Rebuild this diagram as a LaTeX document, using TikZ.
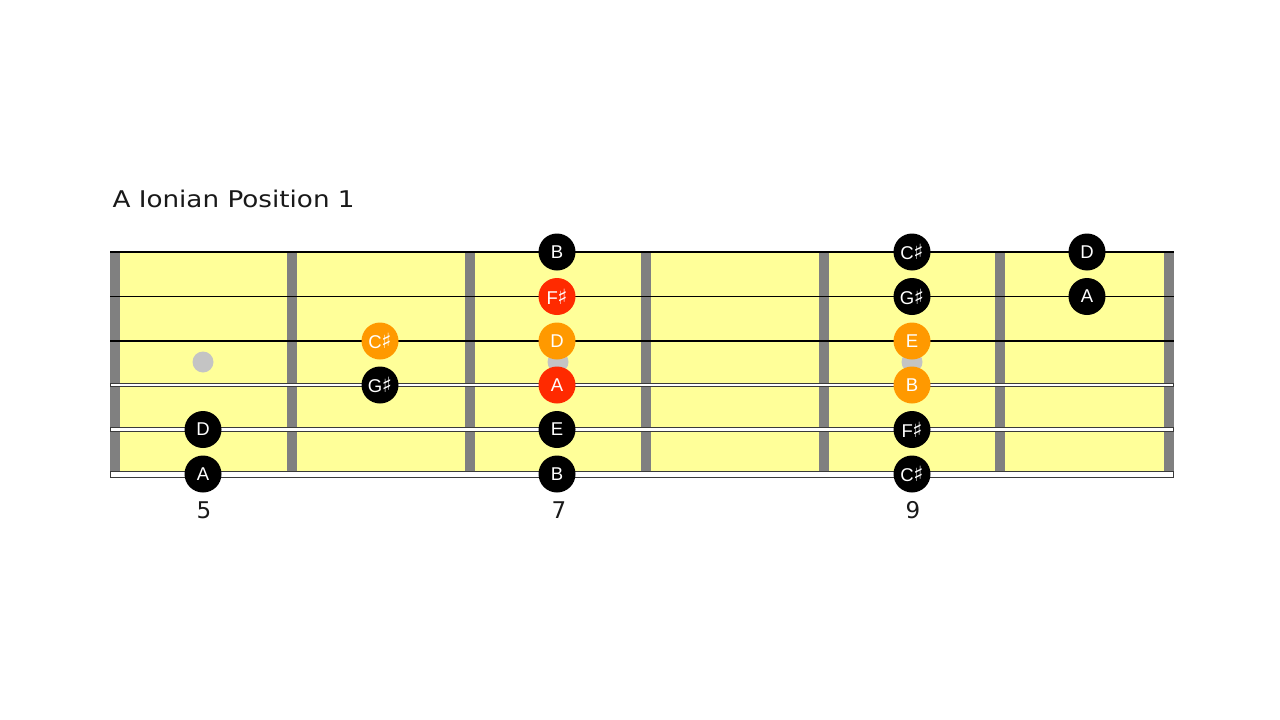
\documentclass[tikz,border=0pt]{standalone}
\usepackage{fontspec}
\setmainfont{DejaVu Sans}
\newfontfamily\titlefont[FakeStretch=1.14]{DejaVu Sans}
\newfontfamily\notefont{Liberation Sans}
\newfontfamily\symfont{DejaVu Sans}
\definecolor{board}{HTML}{FFFF99}
\definecolor{fretgray}{HTML}{808080}
\definecolor{dotgray}{HTML}{C4C4C4}
\definecolor{rootred}{HTML}{FF2A00}
\definecolor{thirdorange}{HTML}{FF9900}
\definecolor{woundedge}{HTML}{3A3A3A}
\newcommand{\shp}{{\symfont\fontsize{21}{21}\selectfont\kern-0.5pt♯}}
\begin{document}
\begin{tikzpicture}[x=1pt,y=-1pt,
  note/.style={circle, minimum size=37pt, inner sep=0pt, text=white,
    font=\notefont\fontsize{18.5}{18.5}\selectfont},
  blacknote/.style={note, fill=black},
  rednote/.style={note, fill=rootred},
  orangenote/.style={note, fill=thirdorange},
  fretbar/.style={fill=fretgray},
  inlay/.style={fill=dotgray},
  plainstring/.style={draw=black, line width=1.2pt},
  fretnum/.style={font=\fontsize{23}{23}\selectfont, anchor=base, text=black!90},
  titletext/.style={font=\titlefont\fontsize{23}{23}\selectfont, anchor=base west, text=black!90}]
\useasboundingbox (0,0) rectangle (1280,720);
\fill[white] (0,0) rectangle (1280,720);
% board
\fill[board] (110,252) rectangle (1174,474);
\foreach \x in {110,287,465,641,819,995,1164}
  \fill[fretbar] (\x,252) rectangle ++(10,222);
% inlays
\foreach \x in {203,558,912}
  \fill[inlay] (\x,362) circle (10.5);
% strings
\foreach \y in {252,296.5,341}
  \draw[plainstring] (110,\y) -- (1174,\y);
\draw[draw=woundedge, line width=4.5pt] (110,385) -- (1174,385);
\draw[draw=white, line width=2.5pt] (111,385) -- (1173,385);
\draw[draw=woundedge, line width=5.5pt] (110,429.5) -- (1174,429.5);
\draw[draw=white, line width=3.5pt] (111,429.5) -- (1173,429.5);
\draw[draw=woundedge, line width=7pt] (110,474) -- (1174,474);
\draw[draw=white, line width=5pt] (111,474) -- (1173,474);
% title
\node[titletext] (title) at (109,207) {A Ionian Position 1};
% notes: string 1 (high E)
\node[blacknote] (s1f7) at (557,252) {B};
\node[blacknote] (s1f9) at (912,252) {C\shp};
\node[blacknote] (s1f10) at (1087,252) {D};
% string 2
\node[rednote] (s2f7) at (557,296.5) {F\shp};
\node[blacknote] (s2f9) at (912,296.5) {G\shp};
\node[blacknote] (s2f10) at (1087,296.5) {A};
% string 3
\node[orangenote] (s3f6) at (380,341) {C\shp};
\node[orangenote] (s3f7) at (557,341) {D};
\node[orangenote] (s3f9) at (912,341) {E};
% string 4
\node[blacknote] (s4f6) at (380,385) {G\shp};
\node[rednote] (s4f7) at (557,385) {A};
\node[orangenote] (s4f9) at (912,385) {B};
% string 5
\node[blacknote] (s5f5) at (203,429.5) {D};
\node[blacknote] (s5f7) at (557,429.5) {E};
\node[blacknote] (s5f9) at (912,429.5) {F\shp};
% string 6
\node[blacknote] (s6f5) at (203,474) {A};
\node[blacknote] (s6f7) at (557,474) {B};
\node[blacknote] (s6f9) at (912,474) {C\shp};
% fret numbers
\node[fretnum] (n5) at (204,518) {5};
\node[fretnum] (n7) at (559,518) {7};
\node[fretnum] (n9) at (913,518) {9};
\end{tikzpicture}
\end{document}
